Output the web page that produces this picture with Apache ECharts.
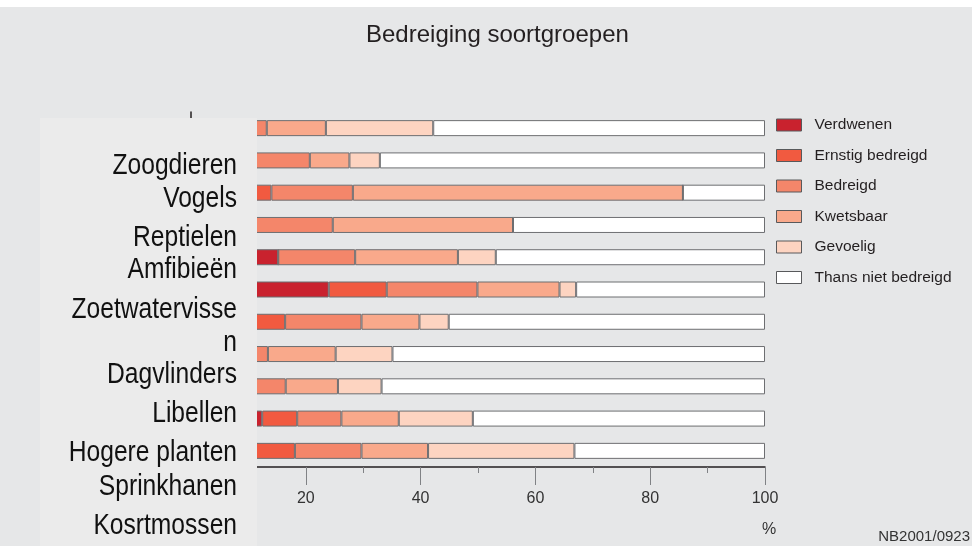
<!DOCTYPE html>
<html>
<head>
<meta charset="utf-8">
<script src="https://cdn.jsdelivr.net/npm/echarts@6/dist/echarts.min.js"></script>
<style>
  html, body { margin: 0; padding: 0; background: #fff; }
  #chart { width: 972px; height: 546px; }
</style>
</head>
<body>
<div id="chart"></div>
<script>
// soortgroepen, van boven naar beneden
var categories = ['Zoogdieren', 'Vogels', 'Reptielen', 'Amfibieën', 'Zoetwatervissen',
    'Dagvlinders', 'Libellen', 'Hogere planten', 'Sprinkhanen', 'Kosrtmossen', 'Overig'];
// labels zoals ze in het plaatje staan (afgebroken)
var labelLines = ['Zoogdieren', 'Vogels', 'Reptielen', 'Amfibieën', 'Zoetwatervisse', 'n',
    'Dagvlinders', 'Libellen', 'Hogere planten', 'Sprinkhanen', 'Kosrtmossen'];

var seriesNames = ['Verdwenen', 'Ernstig bedreigd', 'Bedreigd', 'Kwetsbaar', 'Gevoelig', 'Thans niet bedreigd'];

// percentages per soortgroep
var verdwenen  = [0, 0, 0, 0, 15.2, 24.0, 0, 0, 0, 12.4, 0];
var ernstig    = [0, 0, 14.0, 0, 0, 10.1, 16.4, 0, 0, 6.1, 18.1];
var bedreigd   = [13.2, 20.7, 14.2, 24.7, 13.4, 15.8, 13.3, 13.4, 16.5, 7.7, 11.6];
var kwetsbaar  = [10.3, 6.9, 57.5, 31.4, 17.9, 14.3, 10.1, 11.8, 9.1, 10.0, 11.6];
var gevoelig   = [18.7, 5.3, 0, 0, 6.6, 2.9, 5.1, 9.9, 7.6, 12.9, 25.5];
var nietBedreigd = [57.8, 67.1, 14.3, 43.9, 46.9, 32.9, 55.1, 64.9, 66.8, 50.9, 33.2];

var xTicks = [0, 20, 40, 60, 80, 100];

var colors = ['#c9222e', '#f15a40', '#f4866a', '#f9a98b', '#fdd4c1', '#ffffff'];
var values = [verdwenen, ernstig, bedreigd, kwetsbaar, gevoelig, nietBedreigd];

var dom = document.getElementById('chart');
var myChart = echarts.init(dom);

var series = seriesNames.map(function (name, i) {
    return {
        name: name,
        type: 'bar',
        stack: 'totaal',
        barWidth: 16,
        itemStyle: {
            color: colors[i],
            borderColor: '#6d6e71',
            borderWidth: 1
        },
        data: values[i]
    };
});

// y-posities (midden) van de grote labels links
var labelY = [166, 199, 238, 270, 310, 343, 375, 414, 453, 487, 525.5];

var graphics = [
    {
        type: 'rect',
        left: 0, top: 0,
        shape: { width: 972, height: 7 },
        style: { fill: '#ffffff' },
        z: 100
    },
    {
        type: 'rect',
        left: 40, top: 118,
        shape: { width: 217, height: 428 },
        style: { fill: '#ebebeb' },
        z: 100
    },
    {
        type: 'text',
        x: 762, y: 522,
        style: { text: '%', fill: '#333', font: '16px "Liberation Sans", sans-serif' },
        z: 101
    },
    {
        type: 'text',
        x: 970, y: 537,
        style: {
            text: 'NB2001/0923', fill: '#333', align: 'right', verticalAlign: 'middle',
            font: '15px "Liberation Sans", sans-serif'
        },
        z: 101
    }
];
labelLines.forEach(function (txt, i) {
    graphics.push({
        type: 'text',
        x: 237, y: labelY[i],
        scaleX: 0.82,
        style: {
            text: txt, fill: '#111', align: 'right', verticalAlign: 'middle',
            font: '30px "Liberation Sans", sans-serif'
        },
        z: 101
    });
});

option = {
    backgroundColor: '#e6e7e8',
    animation: false,
    title: {
        text: 'Bedreiging soortgroepen',
        left: 361,
        top: 18,
        textStyle: {
            color: '#231f20',
            fontSize: 24,
            fontWeight: 'normal',
            fontFamily: 'Liberation Sans'
        }
    },
    legend: {
        orient: 'vertical',
        left: 776,
        top: 117,
        padding: 0,
        itemWidth: 25,
        itemHeight: 12,
        itemGap: 14.5,
        icon: 'rect',
        itemStyle: { borderColor: '#58595b', borderWidth: 1 },
        textStyle: {
            color: '#231f20', fontSize: 15.5, fontFamily: 'Liberation Sans',
            padding: [0, 0, 0, 8]
        },
        data: seriesNames
    },
    grid: {
        left: 191,
        right: 207,
        top: 112,
        bottom: 79
    },
    xAxis: {
        type: 'value',
        min: xTicks[0],
        max: xTicks[xTicks.length - 1],
        interval: 20,
        axisLine: { show: true, lineStyle: { color: '#231f20', width: 1.5 } },
        axisTick: { show: true, length: 18, lineStyle: { color: '#808285', width: 1 } },
        minorTick: { show: true, splitNumber: 2, length: 6, lineStyle: { color: '#808285', width: 1 } },
        splitLine: { show: false },
        axisLabel: { margin: 24, color: '#333', fontSize: 16, fontFamily: 'Liberation Sans' }
    },
    yAxis: {
        type: 'category',
        inverse: true,
        data: categories,
        axisLine: { show: true, lineStyle: { color: '#231f20', width: 1.5 } },
        axisTick: { show: false },
        axisLabel: { show: false }
    },
    series: series,
    graphic: graphics
};

if (option && typeof option === 'object') {
    myChart.setOption(option, true);
}
</script>
</body>
</html>
